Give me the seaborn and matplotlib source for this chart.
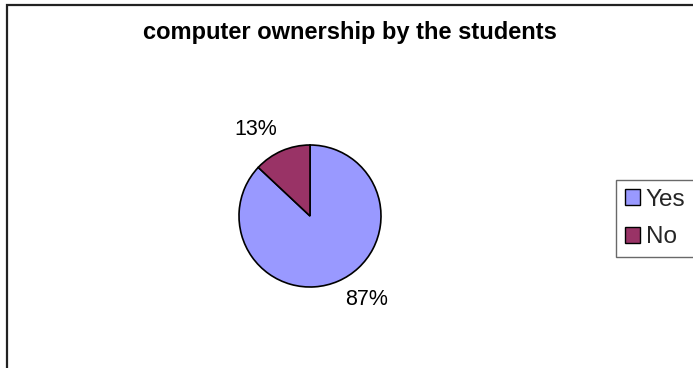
import matplotlib
matplotlib.use("Agg")
import matplotlib.pyplot as plt
from matplotlib.patches import Patch, Rectangle
import seaborn as sns

# Survey result: share of students who own a computer
categories = ["Yes", "No"]
shares = [87, 13]
value_labels = ["87%", "13%"]

sns.set_theme(style="white")
plt.rcParams["font.family"] = ["Liberation Sans", "DejaVu Sans"]

colors = ["#9999FF", "#993366"]

W, H = 693, 368
fig = plt.figure(figsize=(W / 100, H / 100), dpi=100)
fig.patch.set_facecolor("white")

# Chart-area frame (runs off the right and bottom edges)
fig.patches.append(Rectangle((7 / W, -0.05), 1.2, 1 - 5 / H + 0.05,
                             transform=fig.transFigure, fill=False,
                             edgecolor="#222222", linewidth=1.6))

fig.text(350 / W, 1 - 33 / H, "computer ownership by the students",
         ha="center", va="center", fontsize=17, fontweight="bold",
         color="black")

cx, cy, r = 310, 216, 71
ax = fig.add_axes([(cx - r) / W, (H - cy - r) / H, 2 * r / W, 2 * r / H])
wedges, _ = ax.pie(shares, colors=colors, startangle=90, counterclock=False,
                   wedgeprops=dict(edgecolor="black", linewidth=1.2))
ax.set_xlim(-1, 1)
ax.set_ylim(-1, 1)
ax.set_aspect("equal")
ax.axis("off")

# Percentage labels placed outside their wedges
label_xy = [(0.79, -1.17), (-0.77, 1.22)]
for (x, y), txt in zip(label_xy, value_labels):
    ax.text(x, y, txt, ha="center", va="center", fontsize=15.5,
            color="black", clip_on=False)

handles = [Patch(facecolor=c, edgecolor="black", linewidth=1.0) for c in colors]
leg = fig.legend(handles, categories, loc="lower left",
                 bbox_to_anchor=(616 / W, 1 - 257 / H), frameon=True,
                 fancybox=False, fontsize=17.5, handlelength=0.62,
                 handleheight=0.62, handletextpad=0.25, labelspacing=0.65,
                 borderpad=0.35, borderaxespad=0)
leg.get_frame().set_edgecolor("#444444")
leg.get_frame().set_linewidth(1.0)

fig.savefig("out.png", dpi=100, facecolor="white")
